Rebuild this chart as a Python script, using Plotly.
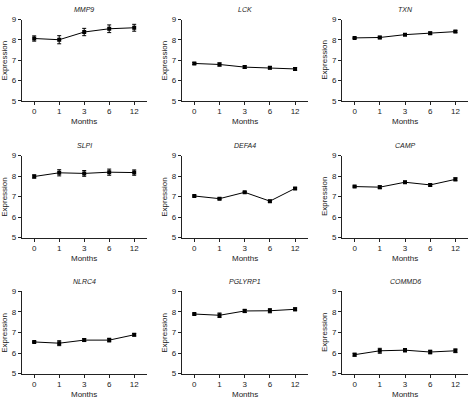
import plotly.graph_objects as go

months = ["0", "1", "3", "6", "12"]
genes = ["MMP9", "LCK", "TXN", "SLPI", "DEFA4", "CAMP", "NLRC4", "PGLYRP1", "COMMD6"]

mmp9 = [8.07, 8.01, 8.39, 8.55, 8.60]
mmp9_err = [0.13, 0.20, 0.18, 0.19, 0.17]
lck = [6.84, 6.79, 6.66, 6.63, 6.57]
lck_err = [0.05, 0.08, 0.06, 0.06, 0.07]
txn = [8.10, 8.12, 8.26, 8.33, 8.41]
txn_err = [0.03, 0.06, 0.04, 0.06, 0.05]
slpi = [7.98, 8.16, 8.13, 8.19, 8.17]
slpi_err = [0.08, 0.15, 0.14, 0.15, 0.13]
defa4 = [7.03, 6.90, 7.21, 6.78, 7.40]
defa4_err = [0.04, 0.05, 0.04, 0.05, 0.04]
camp = [7.49, 7.46, 7.70, 7.57, 7.84]
camp_err = [0.03, 0.07, 0.05, 0.06, 0.07]
nlrc4 = [6.54, 6.48, 6.63, 6.63, 6.89]
nlrc4_err = [0.03, 0.12, 0.07, 0.09, 0.06]
pglyrp1 = [7.90, 7.84, 8.05, 8.06, 8.13]
pglyrp1_err = [0.04, 0.11, 0.08, 0.10, 0.07]
commd6 = [5.92, 6.11, 6.14, 6.05, 6.11]
commd6_err = [0.07, 0.12, 0.08, 0.09, 0.09]

values = [mmp9, lck, txn, slpi, defa4, camp, nlrc4, pglyrp1, commd6]
errors = [mmp9_err, lck_err, txn_err, slpi_err, defa4_err, camp_err, nlrc4_err, pglyrp1_err, commd6_err]

W, H = 470, 404
col_px = [(21.7, 146.7), (181.7, 307.7), (342.0, 468.0)]
row_px = [(16, 99), (155, 239), (294, 378)]

FONT = "Liberation Sans, Arial, Helvetica, sans-serif"
TXT = "#1a1a1a"
fig = go.Figure()
annotations = []
layout = {}
xpos = list(range(len(months)))

for i, (g, v, e) in enumerate(zip(genes, values, errors)):
    r, c = divmod(i, 3)
    n = i + 1
    xa = "x" if n == 1 else f"x{n}"
    ya = "y" if n == 1 else f"y{n}"
    fig.add_trace(go.Scatter(
        x=xpos, y=v, xaxis=xa, yaxis=ya, mode="lines+markers",
        line=dict(color="black", width=1),
        marker=dict(color="black", size=4, symbol="square"),
        error_y=dict(type="data", array=e, visible=True, color="black", thickness=1, width=2),
        showlegend=False, hoverinfo="skip"))
    x0, x1 = col_px[c]
    y0, y1 = row_px[r]
    xd = [x0 / W, x1 / W]
    yd = [1 - y1 / H, 1 - y0 / H]
    layout["xaxis" if n == 1 else f"xaxis{n}"] = dict(
        domain=xd, anchor=ya, range=[-0.5, 4.5], tickvals=xpos, ticktext=months,
        showline=True, linecolor="#222", linewidth=1, ticks="outside", ticklen=3,
        tickcolor="#222", showgrid=False, zeroline=False,
        tickfont=dict(family=FONT, size=8, color=TXT), fixedrange=True)
    layout["yaxis" if n == 1 else f"yaxis{n}"] = dict(
        domain=yd, anchor=xa, range=[5, 9], tickvals=[5, 6, 7, 8, 9],
        showline=True, linecolor="#222", linewidth=1, ticks="outside", ticklen=3,
        tickcolor="#222", showgrid=False, zeroline=False,
        tickfont=dict(family=FONT, size=8, color=TXT), fixedrange=True)
    cx = (x0 + x1) / 2 / W
    annotations.append(dict(text=f"<i>{g}</i>", x=cx, y=1 - (y0 - 10.5) / H,
                            xref="paper", yref="paper", showarrow=False,
                            xanchor="center", yanchor="middle",
                            font=dict(family=FONT, size=7, color=TXT)))
    annotations.append(dict(text="Months", x=cx, y=1 - (y1 + 21) / H,
                            xref="paper", yref="paper", showarrow=False,
                            xanchor="center", yanchor="middle",
                            font=dict(family=FONT, size=8, color=TXT)))
    annotations.append(dict(text="Expression", x=(x0 - 17.5) / W, y=1 - (y0 + y1) / 2 / H,
                            xref="paper", yref="paper", showarrow=False, textangle=-90,
                            xanchor="center", yanchor="middle",
                            font=dict(family=FONT, size=8, color=TXT)))

fig.update_layout(
    width=W, height=H, margin=dict(l=0, r=0, t=0, b=0),
    paper_bgcolor="white", plot_bgcolor="white",
    annotations=annotations, **layout)

fig.write_html("out.html", config={"displayModeBar": False},
               post_script="document.body.style.margin='0';document.body.style.padding='0';document.body.style.overflow='hidden';")
